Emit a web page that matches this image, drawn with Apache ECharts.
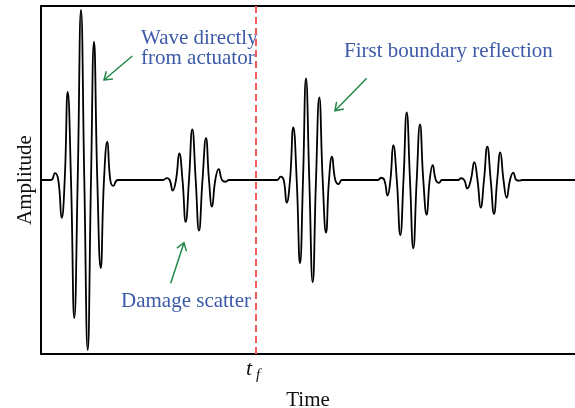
<!DOCTYPE html>
<html>
<head>
<meta charset="utf-8">
<script src="https://cdn.jsdelivr.net/npm/echarts@6/dist/echarts.min.js"></script>
<style>
  html, body { margin: 0; padding: 0; background: #fff; }
  #chart { width: 575px; height: 408px; }
</style>
</head>
<body>
<div id="chart"></div>
<script>
// time in arbitrary units, amplitude normalised to the strongest peak
const directWave = [
  [10, 0], [14, 0.04], [17.3, 0], [20.7, -0.218], [23.7, 0], [26.7, 0.507], [30, 0],
  [33.3, -0.793], [36.7, 0], [40, 0.977], [43.3, 0], [46.7, -0.977], [50, 0],
  [53, 0.795], [56.3, 0], [59.7, -0.506], [63, 0], [66.3, 0.22], [69.3, 0],
  [72.3, -0.034], [77, 0]
];
const damageScatter = [
  [122, 0], [125.7, 0.011], [128.7, 0], [131.7, -0.061], [135, 0], [138.3, 0.153],
  [141.5, 0], [144.7, -0.24], [148, 0], [151.3, 0.291], [154.7, 0], [158, -0.291],
  [161.5, 0], [165, 0.24], [168, 0], [171, -0.153], [174.3, 0], [177.7, 0.063],
  [181, 0], [184.7, -0.01], [188, 0]
];
const boundaryReflection = [
  [236, 0], [239.7, 0.019], [242.7, 0], [245.7, -0.13], [249, 0], [252.3, 0.303],
  [255.7, 0], [259, -0.479], [262, 0], [265, 0.584], [268.3, 0], [271.7, -0.588],
  [275, 0], [278.3, 0.475], [281.7, 0], [285, -0.303], [288, 0], [291, 0.134],
  [294.3, 0], [297.7, -0.023], [301, 0]
];
const secondReflection = [
  [337, 0], [340, 0.013], [343.3, 0], [346.5, -0.089], [349.4, 0], [352.3, 0.201],
  [355.8, 0], [359.3, -0.316], [362.5, 0], [365.7, 0.389], [369, 0], [372.3, -0.393],
  [375.7, 0], [379, 0.32], [382.3, 0], [385.7, -0.201], [388.7, 0], [391.7, 0.086],
  [394.8, 0], [398, -0.016], [401, 0]
];
const secondScatter = [
  [417, 0], [420, 0.01], [423.2, 0], [426.3, -0.048], [429.8, 0], [433.3, 0.102],
  [436.5, 0], [439.7, -0.159], [443, 0], [446.3, 0.191], [449.7, 0], [453, -0.195],
  [456.2, 0], [459.3, 0.159], [462.5, 0], [465.7, -0.102], [469, 0], [472.3, 0.042],
  [475.3, 0], [478.3, -0.004], [481, 0]
];
const tf = 215;
const timeRange = [0, 534];

const signal = [[timeRange[0], 0]]
  .concat(directWave, damageScatter, boundaryReflection, secondReflection, secondScatter)
  .concat([[timeRange[1], 0]]);

const serif = '"Liberation Serif", "DejaVu Serif", serif';
const blue = '#3d5aa9';
const green = '#23894a';
const frame = { show: true, onZero: false, lineStyle: { color: '#000', width: 2 } };

function arrow(x1, y1, x2, y2) {
  const dx = x2 - x1, dy = y2 - y1, L = Math.hypot(dx, dy);
  const bx = -dx / L, by = -dy / L, h = 9, c = Math.cos(0.6), s = Math.sin(0.6);
  const p1 = [x2 + h * (bx * c - by * s), y2 + h * (bx * s + by * c)];
  const p2 = [x2 + h * (bx * c + by * s), y2 + h * (-bx * s + by * c)];
  return [
    { type: 'line', shape: { x1: x1, y1: y1, x2: x2, y2: y2 }, style: { stroke: green, lineWidth: 1.5 } },
    { type: 'polyline', shape: { points: [p1, [x2, y2], p2] }, style: { stroke: green, lineWidth: 1.5, fill: null } }
  ];
}

function label(text, x, y, color, size, italic) {
  return {
    type: 'text', x: x, y: y,
    style: {
      text: text, fill: color, font: (italic ? 'italic ' : '') + size + 'px ' + serif,
      verticalAlign: 'middle', align: 'left'
    }
  };
}

const chart = echarts.init(document.getElementById('chart'));
chart.setOption({
  animation: false,
  grid: { left: 41, right: 0, top: 6, bottom: 54, outerBoundsMode: 'none', containLabel: false },
  xAxis: [{
    type: 'value', min: timeRange[0], max: timeRange[1],
    name: 'Time', nameLocation: 'middle', nameGap: 36,
    nameTextStyle: { fontFamily: serif, fontSize: 21, color: '#111' },
    axisLine: frame, axisTick: { show: false },
    axisLabel: { show: false }, splitLine: { show: false }
  }, {
    type: 'value', position: 'top', min: timeRange[0], max: timeRange[1],
    axisLine: frame, axisTick: { show: false },
    axisLabel: { show: false }, splitLine: { show: false }
  }],
  yAxis: {
    type: 'value', min: -1, max: 1,
    name: 'Amplitude', nameLocation: 'middle', nameGap: 5, nameRotate: 90,
    nameTextStyle: { fontFamily: serif, fontSize: 21, color: '#111' },
    axisLine: frame, axisTick: { show: false },
    axisLabel: { show: false }, splitLine: { show: false }
  },
  series: [{
    type: 'line',
    data: signal,
    smooth: 0.5,
    showSymbol: false,
    lineStyle: { color: '#000', width: 1.8 },
    markLine: {
      silent: true, symbol: 'none', label: { show: false },
      lineStyle: { color: '#f25a5c', type: [7, 4], width: 2 },
      data: [{ xAxis: tf }]
    }
  }],
  graphic: [].concat(
    arrow(132.3, 56, 104, 80),
    arrow(366.7, 78.3, 335, 110.7),
    arrow(170.7, 283.3, 184, 242.7),
    [
      label('Wave directly', 141, 38, blue, 21),
      label('from actuator', 141, 58, blue, 21),
      label('First boundary reflection', 344, 51, blue, 21),
      label('Damage scatter', 121, 301, blue, 21),
      label('t', 246, 369, '#111', 22, true),
      label('f', 256, 375, '#111', 15, true)
    ]
  )
});
</script>
</body>
</html>
